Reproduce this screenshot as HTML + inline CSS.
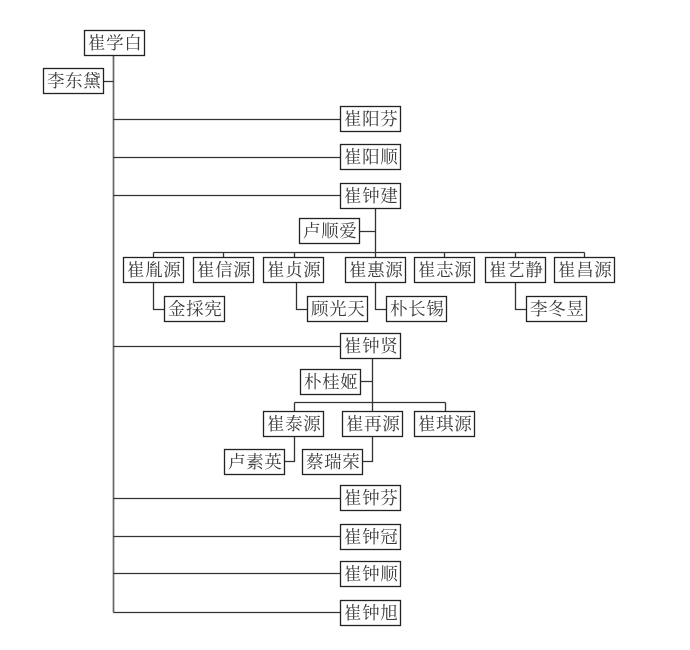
<!DOCTYPE html>
<html><head><meta charset="utf-8">
<style>
html,body{margin:0;padding:0;background:#fff;width:690px;height:650px;overflow:hidden}
svg{display:block;filter:blur(0.28px)}
text{font-family:"Liberation Serif","Noto Serif CJK SC",serif;font-size:17.5px;fill:#3a3a3a;text-anchor:middle;letter-spacing:.6px;transform:translateX(.7px)}
.b{fill:#fff;stroke:#222;stroke-width:1.3}
.l{fill:none;stroke:#333;stroke-width:1.3}
</style></head><body>
<svg width="690" height="650" viewBox="0 0 690 650" xmlns="http://www.w3.org/2000/svg">
<path class="l" style="stroke:#666;stroke-width:1.7" d="M113.5 55V612.5"/>
<path class="l" d="M104 81.5H113.5M113.5 119.5H340M113.5 157.5H340M113.5 195.5H340M113.5 346.5H340M113.5 498.5H340M113.5 536.5H340M113.5 573.5H340M113.5 612.5H340"/>
<path class="l" d="M375.5 208V257M360 231.5H375.5M153.5 252.5H584.5M153.5 252.5V257M223.5 252.5V257M294.5 252.5V257M444.5 252.5V257M515.5 252.5V257M584.5 252.5V257"/>
<path class="l" d="M153.5 283V309.5H164M296.5 283V309.5H307M375.5 283V309.5H386M515.5 283V309.5H526"/>
<path class="l" d="M372.5 359V411M361 381.5H372.5M294.5 402.5H445.5M294.5 402.5V411M445.5 402.5V411"/>
<path class="l" d="M294.5 436V461.5H285M372.5 436V461.5H363"/>
<g id="boxes">
<rect class="b" x="84.5" y="30.5" width="60" height="25"/><text x="114.5" y="49">崔学白</text>
<rect class="b" x="43.5" y="68.5" width="60" height="25"/><text x="73.5" y="87">李东黛</text>
<rect class="b" x="340.5" y="106.5" width="60" height="25"/><text x="370.5" y="125">崔阳芬</text>
<rect class="b" x="340.5" y="144.5" width="60" height="25"/><text x="370.5" y="163">崔阳顺</text>
<rect class="b" x="340.5" y="183.5" width="60" height="25"/><text x="370.5" y="202">崔钟建</text>
<rect class="b" x="299.5" y="218.5" width="60" height="25"/><text x="329.5" y="237">卢顺爱</text>
<rect class="b" x="123.5" y="257.5" width="60" height="25"/><text x="153.5" y="276">崔胤源</text>
<rect class="b" x="193.5" y="257.5" width="60" height="25"/><text x="223.5" y="276">崔信源</text>
<rect class="b" x="263.5" y="257.5" width="60" height="25"/><text x="293.5" y="276">崔贞源</text>
<rect class="b" x="345.5" y="257.5" width="60" height="25"/><text x="375.5" y="276">崔惠源</text>
<rect class="b" x="414.5" y="257.5" width="60" height="25"/><text x="444.5" y="276">崔志源</text>
<rect class="b" x="485.5" y="257.5" width="60" height="25"/><text x="515.5" y="276">崔艺静</text>
<rect class="b" x="554.5" y="257.5" width="60" height="25"/><text x="584.5" y="276">崔昌源</text>
<rect class="b" x="164.5" y="296.5" width="60" height="25"/><text x="194.5" y="315">金採宪</text>
<rect class="b" x="307.5" y="296.5" width="60" height="25"/><text x="337.5" y="315">顾光天</text>
<rect class="b" x="386.5" y="296.5" width="60" height="25"/><text x="416.5" y="315">朴长锡</text>
<rect class="b" x="526.5" y="296.5" width="60" height="25"/><text x="556.5" y="315">李冬昱</text>
<rect class="b" x="340.5" y="333.5" width="60" height="25"/><text x="370.5" y="352">崔钟贤</text>
<rect class="b" x="300.5" y="369.5" width="60" height="25"/><text x="330.5" y="388">朴桂姬</text>
<rect class="b" x="263.5" y="411.5" width="60" height="25"/><text x="293.5" y="430">崔泰源</text>
<rect class="b" x="342.5" y="411.5" width="60" height="25"/><text x="372.5" y="430">崔再源</text>
<rect class="b" x="414.5" y="411.5" width="60" height="25"/><text x="444.5" y="430">崔琪源</text>
<rect class="b" x="224.5" y="449.5" width="60" height="25"/><text x="254.5" y="468">卢素英</text>
<rect class="b" x="302.5" y="449.5" width="60" height="25"/><text x="332.5" y="468">蔡瑞荣</text>
<rect class="b" x="340.5" y="485.5" width="60" height="25"/><text x="370.5" y="504">崔钟芬</text>
<rect class="b" x="340.5" y="524.5" width="60" height="25"/><text x="370.5" y="543">崔钟冠</text>
<rect class="b" x="340.5" y="561.5" width="60" height="25"/><text x="370.5" y="580">崔钟顺</text>
<rect class="b" x="340.5" y="600.5" width="60" height="25"/><text x="370.5" y="619">崔钟旭</text>
</g>
</svg>
</body></html>
